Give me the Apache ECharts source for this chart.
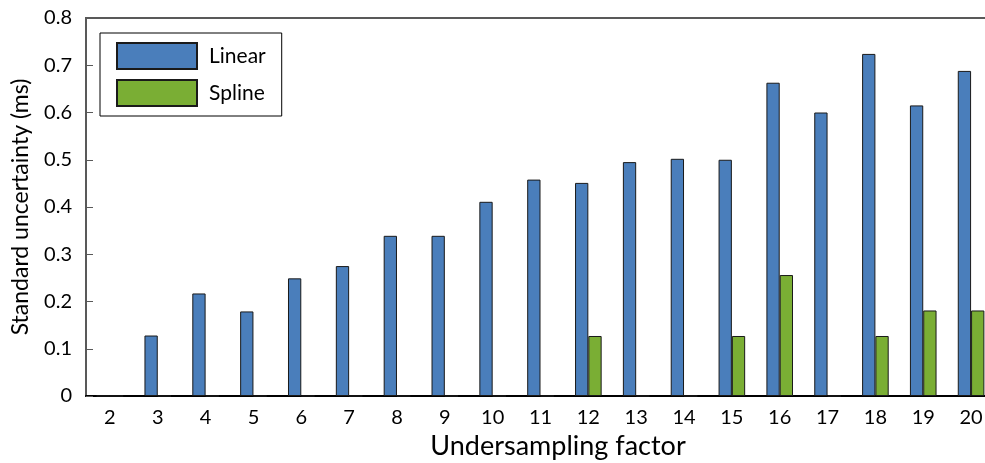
<!DOCTYPE html>
<html><head><meta charset="utf-8">
<script src="https://cdn.jsdelivr.net/npm/echarts@6/dist/echarts.min.js"></script>
<style>html,body{margin:0;padding:0;background:#fff}#c{width:985px;height:463px}</style>
</head><body><div id="c"></div>
<script>
var categories = ['2','3','4','5','6','7','8','9','10','11','12','13','14','15','16','17','18','19','20'];
var linearValues = [0, 0.128, 0.217, 0.179, 0.249, 0.275, 0.339, 0.339, 0.411, 0.458, 0.451, 0.495, 0.502, 0.5, 0.663, 0.6, 0.724, 0.615, 0.688];
var splineValues = [0, 0, 0, 0, 0, 0, 0, 0, 0, 0, 0.127, 0, 0, 0.127, 0.256, 0, 0.127, 0.181, 0.181];
var yTicks = [0, 0.1, 0.2, 0.3, 0.4, 0.5, 0.6, 0.7, 0.8];

var font = 'Lato, "Open Sans", sans-serif';
var chart = echarts.init(document.getElementById('c'));
chart.setOption({
  animation: false,
  grid: {left: 86, top: 18, right: -10, bottom: 67, outerBoundsMode: 'none', containLabel: false,
    show: true, borderColor: '#595959', borderWidth: 2, backgroundColor: 'transparent'},
  legend: {
    left: 100, top: 33, orient: 'vertical',
    icon: 'rect',
    itemWidth: 80, itemHeight: 26, itemGap: 9,
    padding: [9, 16, 9, 16],
    borderColor: '#000', borderWidth: 1,
    textStyle: {fontFamily: font, fontSize: 21, color: '#000', padding: [0, 0, 0, 7], width: 60},
    data: ['Linear', 'Spline']
  },
  xAxis: {
    type: 'category', data: categories,
    name: 'Undersampling factor', nameLocation: 'middle', nameGap: 34,
    nameTextStyle: {fontFamily: font, fontSize: 27, color: '#000', padding: [0, 0, 0, 35]},
    axisLine: {lineStyle: {color: '#000', width: 2}},
    axisTick: {show: false},
    axisLabel: {fontFamily: font, fontSize: 20, color: '#000', margin: 12}
  },
  yAxis: {
    type: 'value', min: 0, max: 0.8, interval: 0.1,
    name: 'Standard uncertainty (ms)', nameLocation: 'middle', nameGap: 54,
    nameTextStyle: {fontFamily: font, fontSize: 23, color: '#000'},
    axisLine: {show: true, lineStyle: {color: '#595959', width: 2}},
    axisTick: {show: true, inside: true, length: 7, lineStyle: {color: '#595959', width: 1}},
    splitLine: {show: false},
    axisLabel: {fontFamily: font, fontSize: 20, color: '#000', margin: 14,
      formatter: function (v) { var r = Math.round(v * 10) / 10; return yTicks.indexOf(r) >= 0 ? String(r) : ''; }}
  },
  series: [
    {name: 'Linear', type: 'bar', data: linearValues, barWidth: 13.3, barGap: '0%',
      itemStyle: {color: '#4a7ebb', borderColor: '#1a1a1a', borderWidth: 1}},
    {name: 'Spline', type: 'bar', data: splineValues, barWidth: 13.3, barGap: '0%',
      itemStyle: {color: '#7aae34', borderColor: '#1a1a1a', borderWidth: 1}}
  ]
});
</script></body></html>
